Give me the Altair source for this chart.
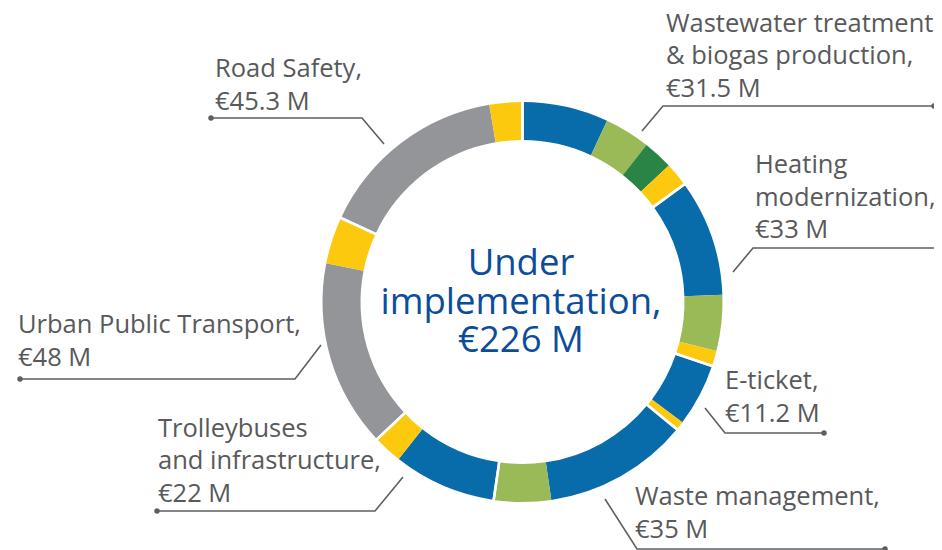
import altair as alt
import pandas as pd

# ---------------- data ----------------
# ring segments, clockwise from 12 o'clock, in € M (estimated from arc lengths)
seg_group = (["Wastewater"] * 4 + ["Heating"] * 3 + ["E-ticket"] * 2 +
             ["Waste"] * 2 + ["Trolley"] * 2 + ["UPT"] * 2 + ["Road"] * 2)
seg_kind = ["blue", "lightgreen", "darkgreen", "yellow",
            "blue", "lightgreen", "yellow",
            "blue", "yellow",
            "blue", "lightgreen",
            "blue", "yellow",
            "gray", "yellow",
            "gray", "yellow"]
seg_value = [15.7, 8.35, 5.46, 4.39,
             21.3, 10.2, 2.8,
             11.5, 1.6,
             26.5, 10.4,
             18.8, 5.3,
             34.2, 8.6,
             34.9, 6.0]

group_order = ["Wastewater", "Heating", "E-ticket", "Waste", "Trolley", "UPT", "Road"]

label_group = ["Wastewater", "Road", "Heating", "UPT", "E-ticket", "Trolley", "Waste"]
label_text = [
    "Wastewater treatment\n& biogas production,\n€31.5 M",
    "Road Safety,\n€45.3 M",
    "Heating\nmodernization,\n€33 M",
    "Urban Public Transport,\n€48 M",
    "E-ticket,\n€11.2 M",
    "Trolleybuses\nand infrastructure,\n€22 M",
    "Waste management,\n€35 M",
]
center_text = "Under\nimplementation,\n€226 M"

# ---------------- layout (pixels in plot space) ----------------
W, H = 926, 542
CX, CY = 514.5, 294
R_OUT, R_IN = 200, 162

label_x = [658, 207, 747, 10, 717, 150, 627]
label_y = [23.5, 69, 165.3, 325, 381, 428.7, 497]

# leader lines: start (at ring), elbow, end (dot)
lead_pts = {
    "Wastewater": [(634, 123), (655, 98), (926, 98)],
    "Road": [(376, 136), (354, 110), (203, 110)],
    "Heating": [(725, 264), (745, 240), (929, 240)],
    "UPT": [(313, 337), (287, 371), (12, 371)],
    "E-ticket": [(697, 400), (717, 425), (816, 425)],
    "Trolley": [(395, 469), (367, 503), (149, 503)],
    "Waste": [(597, 491), (629, 541), (877, 541)],
}

kind_colors = {
    "blue": "#076ca9",
    "lightgreen": "#9aba58",
    "darkgreen": "#2a8446",
    "yellow": "#fdc90e",
    "gray": "#939598",
}

seg_df = pd.DataFrame({
    "idx": list(range(len(seg_value))),
    "group": seg_group,
    "kind": seg_kind,
    "value": seg_value,
})
seg_df["gorder"] = seg_df["group"].map({g: i for i, g in enumerate(group_order)})

rows = []
for g, pts in lead_pts.items():
    for i, (px, py) in enumerate(pts):
        rows.append({"lead": g, "i": i, "px": px, "py": py})
lead_df = pd.DataFrame(rows)
dot_df = lead_df[lead_df["i"] == 2]

lab_df = pd.DataFrame({"group": label_group, "text": label_text,
                       "px": label_x, "py": label_y})

xs = alt.Scale(domain=[0, W], range=[0, W])
ys = alt.Scale(domain=[0, H], range=[0, H])

ring = alt.Chart(seg_df).mark_arc(
    outerRadius=R_OUT, innerRadius=R_IN
).encode(
    theta=alt.Theta("value:Q", stack=True),
    order=alt.Order("idx:Q"),
    color=alt.Color("kind:N",
                    scale=alt.Scale(domain=list(kind_colors.keys()),
                                    range=list(kind_colors.values())),
                    legend=None),
    x=alt.value(CX), y=alt.value(CY),
)

gaps = alt.Chart(seg_df).transform_aggregate(
    total="sum(value)", groupby=["group", "gorder"]
).mark_arc(
    outerRadius=R_OUT + 4, innerRadius=R_IN - 4,
    fillOpacity=0, stroke="white", strokeWidth=2.5
).encode(
    theta=alt.Theta("total:Q", stack=True),
    order=alt.Order("gorder:Q"),
    x=alt.value(CX), y=alt.value(CY),
)

leaders = alt.Chart(lead_df).mark_line(
    color="#5e5f61", strokeWidth=1.6
).encode(
    x=alt.X("px:Q", scale=xs, axis=None),
    y=alt.Y("py:Q", scale=ys, axis=None),
    detail="lead:N",
    order="i:Q",
)

dots = alt.Chart(dot_df).mark_circle(
    color="#5e5f61", opacity=1, size=30
).encode(
    x=alt.X("px:Q", scale=xs, axis=None),
    y=alt.Y("py:Q", scale=ys, axis=None),
)

labels = alt.Chart(lab_df).mark_text(
    align="left", baseline="alphabetic", font="Open Sans", fontSize=25.5,
    fontWeight=400,
    lineBreak="\n", lineHeight=32.5, color="#58595b"
).encode(
    x=alt.X("px:Q", scale=xs, axis=None),
    y=alt.Y("py:Q", scale=ys, axis=None),
    text="text:N",
)

center = alt.Chart(pd.DataFrame({"t": [center_text]})).mark_text(
    align="center", baseline="alphabetic", font="Open Sans", fontSize=36.5,
    fontWeight=500,
    lineBreak="\n", lineHeight=38.7, color="#0b4d9b"
).encode(
    x=alt.value(513), y=alt.value(267),
    text="t:N",
)

chart = alt.layer(ring, gaps, leaders, dots, labels, center).properties(
    width=W, height=H, padding=0, autosize=alt.AutoSizeParams(type="none")
).configure_view(stroke=None)

chart.save("out.html", embed_options={"renderer": "svg", "actions": False})
